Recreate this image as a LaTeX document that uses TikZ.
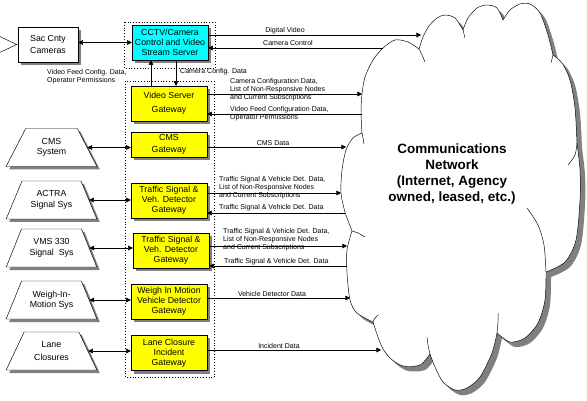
\documentclass[tikz,border=0pt]{standalone}
\usepackage{fontspec}
\setmainfont{Liberation Sans}
\usetikzlibrary{shapes.geometric,shadows,arrows.meta}

\definecolor{cctvcyan}{RGB}{0,255,255}
\definecolor{gwyellow}{RGB}{255,255,0}
\definecolor{shadowgray}{RGB}{128,128,128}

\tikzset{
  boxshadow/.style={drop shadow={shadow xshift=0.09cm,shadow yshift=-0.09cm,fill=shadowgray,opacity=1}},
  gw/.style={draw,fill=gwyellow,boxshadow,minimum width=2.28cm,minimum height=1.05cm,inner sep=0pt,align=center,font=\fontsize{7.5}{8.6}\selectfont},
  ext/.style={draw,fill=white,boxshadow,trapezium,trapezium angle=59,trapezium stretches=true,minimum width=2.73cm,minimum height=1.14cm,inner sep=0pt,align=center,font=\fontsize{7.5}{9}\selectfont},
  lbl/.style={inner sep=0pt,align=left,font=\fontsize{6}{6.9}\selectfont},
  sig/.style={-{Triangle[length=4pt,width=4pt]}},
  dbl/.style={{Triangle[length=4pt,width=4pt]}-{Triangle[length=4pt,width=4pt]}},
}

\newcommand\cloudline{%
  plot[smooth] coordinates {(362,-133) (361,-112) (362,-94) (365,-77) (373,-60) (383,-48) (395,-40) (408,-42) (419,-49)}
  -- plot[smooth] coordinates {(419,-49) (423,-37) (429,-26) (437,-18) (445,-15) (455,-18) (463,-30)}
  -- plot[smooth] coordinates {(463,-30) (468,-18) (477,-8) (487,-5) (497,-8) (503,-20)}
  -- plot[smooth] coordinates {(503,-20) (510,-10) (520,-4) (530,-4) (540,-13) (548,-35) (553,-55)}
  -- plot[smooth] coordinates {(553,-55) (562,-63) (570,-80) (575,-108) (577,-143)}
  -- plot[smooth] coordinates {(577,-143) (580,-170) (580,-200) (576,-240) (565,-262) (546,-272)}
  -- plot[smooth] coordinates {(546,-272) (545,-300) (538,-323) (525,-338) (510,-342) (497,-333)}
  -- plot[smooth] coordinates {(497,-333) (492,-353) (480,-377) (467,-388) (455,-390) (443,-382) (435,-367) (430,-354)}
  -- plot[smooth] coordinates {(430,-354) (420,-365) (403,-366) (390,-358) (381,-345) (373,-322)}
  -- plot[smooth] coordinates {(373,-322) (357,-313) (350,-300) (347,-273) (347,-250) (352,-231)}
  -- plot[smooth] coordinates {(352,-231) (345,-212) (341,-193) (342,-170) (346,-150) (353,-138) (362,-133)}
  -- cycle}

\begin{document}
\begin{tikzpicture}[x=0.03cm,y=0.03cm]
  \useasboundingbox (0,0) rectangle (587,-401);
  % cloud
  \fill[shadowgray,shift={(5,-5)}] \cloudline;
  \draw[fill=white] \cloudline;
  \draw plot[smooth] coordinates {(362,-133) (363,-138) (364,-144)};
  \draw plot[smooth] coordinates {(419,-49) (422,-55) (425,-62)};
  \draw plot[smooth] coordinates {(463,-30) (464,-34) (465,-38)};
  \draw plot[smooth] coordinates {(553,-55) (552,-59) (551,-63)};
  \draw plot[smooth] coordinates {(577,-143) (575,-155) (568,-165)};
  \draw plot[smooth] coordinates {(546,-272) (544,-245) (538,-225) (527,-208)};
  \draw plot[smooth] coordinates {(497,-333) (498,-322) (498,-313)};
  \draw plot[smooth] coordinates {(430,-354) (428,-345) (427,-337)};
  \draw plot[smooth] coordinates {(373,-322) (375,-318) (378,-315)};
  \draw plot[smooth] coordinates {(352,-231) (358,-233) (365,-237)};
  \node[align=center,inner sep=0pt,font=\bfseries\fontsize{11.5}{13.6}\selectfont] (net) at (452,-174)
    {Communications\\Network\\(Internet, Agency\\owned, leased, etc.)};
  \coordinate (dv-in) at (421,-35);
  \coordinate (cc-out) at (383,-48);
  \coordinate (cfg-in) at (362,-94);
  \coordinate (feed-out) at (362,-114);
  \coordinate (cms-in) at (346,-147);
  \coordinate (ts1-in) at (341,-193);
  \coordinate (ts1-out) at (345,-213);
  \coordinate (ts2-in) at (347,-246);
  \coordinate (ts2-out) at (347,-266);
  \coordinate (vd-in) at (350,-298);
  \coordinate (inc-in) at (381,-350);

  % dotted groups
  \draw[dotted] (124,-22) rectangle (215,-68);
  \draw[dotted] (125,-81) rectangle (214,-377);

  % gateways
  \node[gw,fill=cctvcyan] (cctv) at (170,-42.5) {CCTV/Camera\\Control and Video\\Stream Server};
  \node[gw] (vsg) at (169,-103.5) {Video Server\\[3pt]Gateway};
  \node[gw,minimum height=0.75cm] (cmsgw) at (169,-144.5) {CMS\\[1.5pt]Gateway};
  \node[gw] (tsg1) at (169,-200.5) {Traffic Signal \&\\Veh. Detector\\Gateway};
  \node[gw] (tsg2) at (171,-250.5) {Traffic Signal \&\\Veh. Detector\\Gateway};
  \node[gw] (wimgw) at (169,-301.5) {Weigh In Motion\\Vehicle Detector\\Gateway};
  \node[gw] (lcgw) at (169,-353) {Lane Closure\\Incident\\Gateway};

  % outside systems
  \node[draw,fill=white,boxshadow,minimum width=1.8cm,minimum height=1.05cm,inner sep=0pt,align=center,font=\fontsize{7.5}{10}\selectfont] (sac) at (48,-44.5) {Sac Cnty\\Cameras};
  \draw[fill=white] ([xshift=-0.03cm]sac.west) -- ++(-17,8) -- ++(0,-16) -- cycle;
  \node[ext] (cmssys) at (51.5,-147.5) {CMS\\System};
  \node[ext] (actra) at (51.5,-200) {ACTRA\\Signal Sys};
  \node[ext] (vms) at (51.5,-248) {VMS 330\\Signal\ \ Sys};
  \node[ext] (wim) at (51.5,-300) {Weigh-In-\\Motion Sys};
  \node[ext] (lane) at (51.5,-351) {Lane\\[2pt]Closures};

  % left links
  \draw[dbl] (sac.east |- cctv.west) -- (cctv.west);
  \draw[dbl] (cmssys.east) -- (cmsgw.west |- cmssys.east);
  \draw[dbl] (actra.east) -- (tsg1.west |- actra.east);
  \draw[dbl] (vms.east) -- (tsg2.west |- vms.east);
  \draw[dbl] (wim.east) -- (wimgw.west |- wim.east);
  \draw[dbl] (lane.east) -- (lcgw.west |- lane.east);

  % cctv <-> video server gateway
  \coordinate (up) at (151,0);
  \coordinate (dn) at (176,0);
  \draw[sig] (vsg.north -| up) -- (cctv.south -| up);
  \draw[sig] (cctv.south -| dn) -- (vsg.north -| dn);
  \node[lbl,anchor=west] (feedcfg) at (47,-77) {Video Feed Config. Data,\\Operator Permissions};
  \node[lbl,anchor=west] (camcfg) at (180,-72) {Camera Config. Data};

  % links to network
  \draw[sig] (cctv.east |- dv-in) -- (dv-in);
  \node[lbl] (dvlbl) at (285,-30.5) {Digital Video};
  \draw[sig] (cc-out) -- (cctv.east |- cc-out);
  \node[lbl] (cclbl) at (288,-43) {Camera Control};

  \draw[sig] (vsg.east |- cfg-in) -- (cfg-in);
  \node[lbl,anchor=west] (cfglbl) at (230,-89.5) {Camera Configuration Data,\\List of Non-Responsive Nodes\\and Current Subscriptions};
  \draw[sig] (feed-out) -- (vsg.east |- feed-out);
  \node[lbl,anchor=west] (feedlbl) at (230,-113.5) {Video Feed Configuration Data,\\Operator Permissions};

  \draw[sig] (cmsgw.east |- cms-in) -- (cms-in);
  \node[lbl] (cmslbl) at (273,-143) {CMS Data};

  \draw[sig] (tsg1.east |- ts1-in) -- (ts1-in);
  \node[lbl,anchor=west] (ts1lbl) at (219,-188) {Traffic Signal \& Vehicle Det. Data,\\List of Non-Responsive Nodes\\and Current Subscriptions};
  \draw[sig] (ts1-out) -- (tsg1.east |- ts1-out);
  \node[lbl,anchor=west] (ts1back) at (219,-208) {Traffic Signal \& Vehicle Det. Data};

  \draw[sig] (tsg2.east |- ts2-in) -- (ts2-in);
  \node[lbl,anchor=west] (ts2lbl) at (223,-240) {Traffic Signal \& Vehicle Det. Data,\\List of Non-Responsive Nodes\\and Current Subscriptions};
  \draw[sig] (ts2-out) -- (tsg2.east |- ts2-out);
  \node[lbl,anchor=west] (ts2back) at (224,-262) {Traffic Signal \& Vehicle Det. Data};

  \draw[sig] (wimgw.east |- vd-in) -- (vd-in);
  \node[lbl] (vdlbl) at (272,-294) {Vehicle Detector Data};

  \draw[sig] (lcgw.east |- inc-in) -- (inc-in);
  \node[lbl] (inclbl) at (279,-346) {Incident Data};
\end{tikzpicture}
\end{document}
